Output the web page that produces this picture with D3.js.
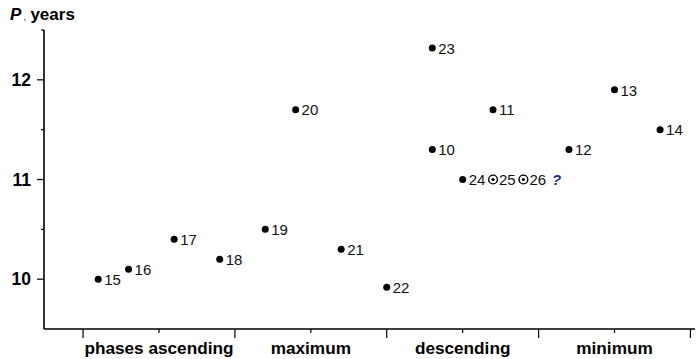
<!DOCTYPE html>
<html>
<head>
<meta charset="utf-8">
<script src="https://cdn.jsdelivr.net/npm/d3@7"></script>
<style>
  body { margin: 0; background: #fff; }
  svg { display: block; font-family: Arial, "Liberation Sans", sans-serif; }
</style>
</head>
<body>
<div id="chart"></div>
<script>
// solar cycle numbers, their position along the phase axis and period P (years)
const cycles = ["15", "16", "17", "18", "19", "20", "21", "22", "23", "10", "24", "25", "26", "11", "12", "13", "14"];
const phasePos = [0.1, 0.3, 0.6, 0.9, 1.2, 1.4, 1.7, 2.0, 2.3, 2.3, 2.5, 2.7, 2.9, 2.7, 3.2, 3.5, 3.8];
const periods = [10.0, 10.1, 10.4, 10.2, 10.5, 11.7, 10.3, 9.92, 12.32, 11.3, 11.0, 11.0, 11.0, 11.7, 11.3, 11.9, 11.5];
const predicted = ["25", "26"];
const phaseNames = ["phases ascending", "maximum", "descending", "minimum"];
const yTicks = [10, 11, 12];

const width = 699, height = 359;

const svg = d3.select("#chart").append("svg")
    .attr("width", width)
    .attr("height", height);

const x = d3.scaleLinear().domain([-0.257, 4.03]).range([44, 695]);
const y = d3.scaleLinear().domain([9.5, 12.5]).range([329, 30]);

// axes lines
svg.append("line")
    .attr("x1", x(-0.257)).attr("x2", x(-0.257))
    .attr("y1", y(12.5)).attr("y2", y(9.5))
    .attr("stroke", "#000").attr("stroke-width", 1.6);
svg.append("line")
    .attr("x1", x(-0.257)).attr("x2", x(4.03))
    .attr("y1", y(9.5)).attr("y2", y(9.5))
    .attr("stroke", "#000").attr("stroke-width", 1.6);

// y ticks: major at whole years, minor at halves
const yMinor = [10.5, 11.5, 12.5];
svg.selectAll(".ytick").data(yTicks).enter().append("line")
    .attr("x1", x(-0.257) - 7).attr("x2", x(-0.257))
    .attr("y1", d => y(d)).attr("y2", d => y(d))
    .attr("stroke", "#000").attr("stroke-width", 1.2);
svg.selectAll(".yminor").data(yMinor).enter().append("line")
    .attr("x1", x(-0.257) - 3).attr("x2", x(-0.257))
    .attr("y1", d => y(d)).attr("y2", d => y(d))
    .attr("stroke", "#000").attr("stroke-width", 1.2);
svg.selectAll(".ylab").data(yTicks).enter().append("text")
    .attr("x", 31)
    .attr("y", d => y(d))
    .attr("dy", "0.36em")
    .attr("text-anchor", "end")
    .attr("font-size", "17.5px")
    .attr("font-weight", "bold")
    .text(d => d);

// x ticks: phase borders and phase centres
const xMajor = [0, 1, 2, 3, 4];
const xMinor = [0.5, 1.5, 2.5, 3.5];
svg.selectAll(".xtick").data(xMajor).enter().append("line")
    .attr("x1", d => x(d)).attr("x2", d => x(d))
    .attr("y1", y(9.5)).attr("y2", y(9.5) + 9)
    .attr("stroke", "#000").attr("stroke-width", 1.2);
svg.selectAll(".xminor").data(xMinor).enter().append("line")
    .attr("x1", d => x(d)).attr("x2", d => x(d))
    .attr("y1", y(9.5)).attr("y2", y(9.5) + 4)
    .attr("stroke", "#000").attr("stroke-width", 1.2);
svg.selectAll(".xlab").data(phaseNames).enter().append("text")
    .attr("x", (d, i) => x(i + 0.5))
    .attr("y", 354)
    .attr("text-anchor", "middle")
    .attr("font-size", "17.2px")
    .attr("font-weight", "bold")
    .text(d => d);

// axis title
const title = svg.append("text")
    .attr("x", 10).attr("y", 20)
    .attr("font-size", "17px")
    .attr("font-weight", "bold");
title.append("tspan").attr("font-style", "italic").text("P");
title.append("tspan").attr("font-weight", "normal").attr("font-size", "11px").attr("fill", "#555").attr("dx", 2).text(",");
title.append("tspan").attr("dx", 4).text("years");

// points
const points = cycles.map((c, i) => ({ c, p: phasePos[i], v: periods[i], pred: predicted.includes(c) }));

const g = svg.append("g");
g.selectAll(".dot").data(points.filter(d => !d.pred)).enter().append("circle")
    .attr("cx", d => x(d.p))
    .attr("cy", d => y(d.v))
    .attr("r", 3.5)
    .attr("fill", "#000");

g.selectAll(".ring").data(points.filter(d => d.pred)).enter().append("circle")
    .attr("cx", d => x(d.p))
    .attr("cy", d => y(d.v))
    .attr("r", 4.4)
    .attr("fill", "#fff")
    .attr("stroke", "#000")
    .attr("stroke-width", 1.4);
g.selectAll(".ringdot").data(points.filter(d => d.pred)).enter().append("circle")
    .attr("cx", d => x(d.p))
    .attr("cy", d => y(d.v))
    .attr("r", 1.6)
    .attr("fill", "#000");

const labels = g.selectAll(".lab").data(points).enter().append("text")
    .attr("x", d => x(d.p) + 6)
    .attr("y", d => y(d.v))
    .attr("dy", "0.38em")
    .attr("font-size", "15px")
    .attr("fill", "#111")
    .text(d => d.c);

labels.filter(d => d.c === "26").append("tspan")
    .attr("dx", 6)
    .attr("fill", "#1f2a8a")
    .attr("font-weight", "bold")
    .attr("font-style", "italic")
    .text("?");
</script>
</body>
</html>
